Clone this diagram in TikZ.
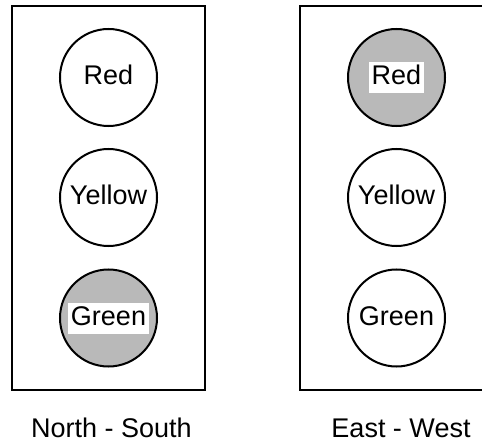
\documentclass[tikz,border=0pt]{standalone}
\usepackage{fontspec}
\setmainfont{Liberation Sans}
\tikzset{
  housing/.style={draw=black, line width=2.2pt},
  lamp/.style={circle, draw=black, line width=2pt, minimum size=97pt, inner sep=0pt, fill=white},
  lampon/.style={lamp, fill=gray!55},
  lbl/.style={font=\fontsize{27}{31}\selectfont, inner sep=0pt, text height=19.5pt, text depth=5.5pt},
  onlbl/.style={fill=white, inner xsep=3pt, inner ysep=3pt, font=\fontsize{27}{31}\selectfont, text height=19.5pt, text depth=5.5pt},
  caption/.style={font=\fontsize{27}{31}\selectfont, inner sep=0pt}
}
\begin{document}
\begin{tikzpicture}[x=1pt,y=-1pt]
\useasboundingbox (0,0) rectangle (482,441);
\fill[white] (0,0) rectangle (482,441);
% housings
\draw[housing] (12,6) rectangle (205,390);
\draw[housing] (300,6) rectangle (496,390);
% North - South
\node[lamp] (nsred) at (108.5,77.5) {};
\node[lbl] (nsredt) at (nsred) {Red};
\node[lamp] (nsyellow) at (108.5,197.5) {};
\node[lbl] (nsyellowt) at (nsyellow) {Yellow};
\node[lampon] (nsgreen) at (108.5,318) {};
\node[onlbl] (nsgreent) at (nsgreen) {Green};
% East - West
\node[lampon] (ewred) at (396.5,77.5) {};
\node[onlbl] (ewredt) at (ewred) {Red};
\node[lamp] (ewyellow) at (396.5,197.5) {};
\node[lbl] (ewyellowt) at (ewyellow) {Yellow};
\node[lamp] (ewgreen) at (396.5,318) {};
\node[lbl] (ewgreent) at (ewgreen) {Green};
% captions
\node[caption, anchor=base] (nscap) at (111.5,437) {North - South};
\node[caption, anchor=base] (ewcap) at (401,437) {East - West};
\end{tikzpicture}
\end{document}
